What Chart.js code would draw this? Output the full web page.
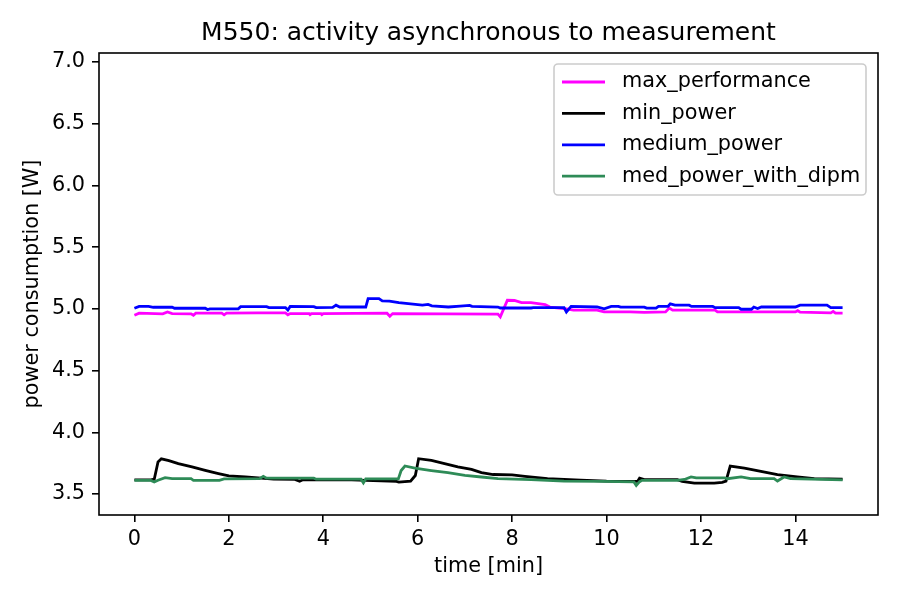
<!DOCTYPE html>
<html>
<head>
<meta charset="utf-8">
<script src="https://cdn.jsdelivr.net/npm/chart.js@4.4.0/dist/chart.umd.min.js"></script>
<style>
  html, body { margin: 0; padding: 0; background: #fff; }
  #wrap { width: 900px; height: 600px; }
</style>
</head>
<body>
<div id="wrap"><canvas id="chart" width="900" height="600"></canvas></div>
<script>
// M550 power traces (time in minutes, power in W)

const maxPerfTime = [0, 0.1, 0.6, 0.7, 0.8, 1.2, 1.25, 1.3, 1.85, 1.9, 1.95, 2.6, 3.2, 3.25, 3.3, 3.7, 3.72, 3.75,
  3.95, 3.97, 4.0, 5.35, 5.41, 5.47, 7.7, 7.75, 7.9, 8.05, 8.2, 8.4, 8.7, 8.8, 9.15, 9.3, 9.8, 9.95, 10.5, 10.8,
  11.25, 11.33, 11.4, 12.3, 12.35, 14.0, 14.05, 14.1, 14.75, 14.8, 14.85, 15.0];
const maxPerfW = [4.948, 4.965, 4.96, 4.975, 4.962, 4.96, 4.948, 4.965, 4.965, 4.952, 4.965, 4.967, 4.967, 4.952,
  4.962, 4.962, 4.953, 4.962, 4.962, 4.953, 4.962, 4.965, 4.94, 4.962, 4.958, 4.935, 5.07, 5.068, 5.05, 5.05,
  5.034, 5.015, 5.0, 4.99, 4.99, 4.975, 4.975, 4.972, 4.975, 5.007, 4.99, 4.99, 4.975, 4.975, 4.985, 4.973,
  4.968, 4.98, 4.965, 4.965];

const minPowerTime = [0, 0.35, 0.42, 0.5, 0.57, 0.73, 0.93, 1.22, 1.5, 1.78, 2.0, 2.35, 2.62, 2.95, 3.4, 3.5, 3.58,
  4.6, 4.9, 5.55, 5.6, 5.85, 5.95, 6.02, 6.29, 6.57, 6.85, 7.14, 7.35, 7.6, 8.0, 8.27, 8.75, 9.45, 10.0, 10.66,
  10.7, 10.8, 11.5, 11.6, 11.86, 12.28, 12.45, 12.53, 12.62, 12.92, 13.27, 13.62, 14.04, 14.4, 15.0];
const minPowerW = [3.615, 3.615, 3.62, 3.76, 3.785, 3.77, 3.746, 3.72, 3.692, 3.666, 3.647, 3.638, 3.63, 3.62,
  3.618, 3.603, 3.617, 3.615, 3.61, 3.602, 3.597, 3.605, 3.65, 3.786, 3.772, 3.746, 3.72, 3.7, 3.673, 3.658,
  3.655, 3.643, 3.625, 3.612, 3.605, 3.603, 3.628, 3.616, 3.616, 3.603, 3.589, 3.589, 3.595, 3.605, 3.727,
  3.71, 3.684, 3.657, 3.638, 3.624, 3.62];

const mediumTime = [0, 0.1, 0.3, 0.4, 0.8, 0.85, 1.5, 1.55, 1.6, 2.2, 2.25, 2.8, 2.85, 3.2, 3.25, 3.3, 3.8, 3.85,
  4.2, 4.27, 4.35, 4.9, 4.95, 5.18, 5.25, 5.4, 5.6, 5.8, 6.1, 6.22, 6.3, 6.65, 6.9, 7.1, 7.15, 7.7, 7.75, 8.4,
  8.45, 9.1, 9.15, 9.25, 9.8, 9.95, 10.1, 10.25, 10.3, 10.8, 10.85, 11.05, 11.1, 11.3, 11.35, 11.45, 11.75,
  11.8, 12.25, 12.3, 12.8, 12.85, 13.07, 13.12, 13.2, 13.28, 14.0, 14.1, 14.67, 14.75, 15.0];
const mediumW = [5.005, 5.02, 5.02, 5.013, 5.013, 5.005, 5.005, 4.995, 5.0, 5.0, 5.018, 5.018, 5.01, 5.01, 4.99,
  5.02, 5.018, 5.01, 5.012, 5.03, 5.015, 5.015, 5.083, 5.083, 5.065, 5.062, 5.05, 5.042, 5.03, 5.036, 5.025,
  5.015, 5.022, 5.028, 5.02, 5.015, 5.007, 5.007, 5.01, 5.01, 4.975, 5.02, 5.015, 5.0, 5.02, 5.02, 5.014,
  5.014, 5.006, 5.006, 5.02, 5.02, 5.04, 5.03, 5.03, 5.02, 5.02, 5.01, 5.01, 4.997, 4.997, 5.015, 5.003,
  5.015, 5.015, 5.03, 5.03, 5.01, 5.01];

const dipmTime = [0, 0.35, 0.42, 0.5, 0.65, 0.8, 1.2, 1.25, 1.8, 1.9, 2.65, 2.73, 2.8, 3.8, 3.85, 4.8, 4.85, 4.9,
  5.59, 5.65, 5.73, 5.94, 6.29, 6.64, 7.0, 7.35, 7.7, 8.4, 9.1, 9.9, 10.58, 10.63, 10.7, 10.75, 11.5, 11.65,
  11.79, 11.9, 12.5, 12.56, 12.85, 13.05, 13.55, 13.62, 13.76, 13.9, 15.0];
const dipmW = [3.61, 3.61, 3.597, 3.612, 3.632, 3.625, 3.624, 3.611, 3.611, 3.622, 3.624, 3.643, 3.628, 3.628,
  3.62, 3.62, 3.59, 3.622, 3.622, 3.69, 3.727, 3.71, 3.69, 3.673, 3.651, 3.638, 3.624, 3.616, 3.605, 3.603,
  3.598, 3.57, 3.6, 3.611, 3.611, 3.618, 3.638, 3.63, 3.63, 3.624, 3.638, 3.624, 3.624, 3.605, 3.638, 3.624,
  3.615];

const xTicks = [0, 2, 4, 6, 8, 10, 12, 14];
const yTicks = [3.5, 4.0, 4.5, 5.0, 5.5, 6.0, 6.5, 7.0];

const TITLE = "M550: activity asynchronous to measurement";
const FONT = "DejaVu Sans";

function toPoints(ts, vs) {
  return ts.map((t, i) => ({ x: t, y: vs[i] }));
}

const datasets = [
  { label: "max_performance", data: toPoints(maxPerfTime, maxPerfW), borderColor: "#ff00ff", order: 4 },
  { label: "min_power", data: toPoints(minPowerTime, minPowerW), borderColor: "#000000", order: 3 },
  { label: "medium_power", data: toPoints(mediumTime, mediumW), borderColor: "#0000ff", order: 2 },
  { label: "med_power_with_dipm", data: toPoints(dipmTime, dipmW), borderColor: "#2e8b57", order: 1 },
];

// title over the axes, frame on all four sides, matplotlib style legend box
const frameAndLegend = {
  id: "frameAndLegend",
  afterDraw(chart) {
    const { ctx, chartArea: { left, top, right, bottom } } = chart;
    ctx.save();

    ctx.fillStyle = "#000";
    ctx.font = "25px '" + FONT + "'";
    ctx.textAlign = "center";
    ctx.textBaseline = "middle";
    ctx.fillText(TITLE, (left + right) / 2, 33);

    ctx.strokeStyle = "#000";
    ctx.lineWidth = 1.6;
    ctx.strokeRect(left, top, right - left, bottom - top);

    const bx = 554, by = 64, bw = 312, bh = 131, r = 4;
    ctx.beginPath();
    ctx.moveTo(bx + r, by);
    ctx.arcTo(bx + bw, by, bx + bw, by + bh, r);
    ctx.arcTo(bx + bw, by + bh, bx, by + bh, r);
    ctx.arcTo(bx, by + bh, bx, by, r);
    ctx.arcTo(bx, by, bx + bw, by, r);
    ctx.closePath();
    ctx.fillStyle = "rgba(255,255,255,0.8)";
    ctx.fill();
    ctx.strokeStyle = "#cccccc";
    ctx.lineWidth = 1.6;
    ctx.stroke();

    ctx.font = "20.8px '" + FONT + "'";
    ctx.textBaseline = "middle";
    ctx.textAlign = "left";
    chart.data.datasets.forEach((ds, i) => {
      const y = 82 + i * 31.4;
      ctx.strokeStyle = ds.borderColor;
      ctx.lineWidth = 2.8;
      ctx.beginPath();
      ctx.moveTo(562, y);
      ctx.lineTo(605, y);
      ctx.stroke();
      ctx.fillStyle = "#000";
      ctx.fillText(ds.label, 622, y);
    });
    ctx.restore();
  },
};

const tickFont = { family: FONT, size: 20.8 };

new Chart(document.getElementById("chart"), {
  type: "line",
  data: { datasets: datasets },
  options: {
    responsive: false,
    animation: false,
    devicePixelRatio: 1,
    layout: { padding: { left: 0, right: 22, top: 53, bottom: 0 } },
    elements: {
      point: { radius: 0 },
      line: { borderWidth: 2.8, tension: 0, fill: false },
    },
    plugins: {
      legend: { display: false },
      tooltip: { enabled: false },
      title: { display: false },
    },
    scales: {
      x: {
        type: "linear",
        min: -0.75,
        max: 15.75,
        afterBuildTicks: (s) => { s.ticks = xTicks.map((v) => ({ value: v })); },
        afterFit: (s) => { s.height = 85; },
        ticks: { color: "#000", font: tickFont, padding: 5, maxRotation: 0, autoSkip: false,
          callback: (v) => String(v) },
        grid: { drawOnChartArea: false, drawTicks: true, tickLength: 7, tickColor: "#000", lineWidth: 1.6 },
        border: { display: false },
        title: { display: true, text: "time [min]", color: "#000", font: tickFont,
          padding: { top: 0, bottom: 21 } },
      },
      y: {
        type: "linear",
        min: 3.33,
        max: 7.073,
        afterBuildTicks: (s) => { s.ticks = yTicks.map((v) => ({ value: v })); },
        afterFit: (s) => { s.width = 99; },
        ticks: { color: "#000", font: tickFont, padding: 7, autoSkip: false,
          callback: (v) => v.toFixed(1) },
        grid: { drawOnChartArea: false, drawTicks: true, tickLength: 7, tickColor: "#000", lineWidth: 1.6 },
        border: { display: false },
        title: { display: true, text: "power consumption [W]", color: "#000", font: tickFont,
          padding: { top: 20, bottom: 0 } },
      },
    },
  },
  plugins: [frameAndLegend],
});
</script>
</body>
</html>
